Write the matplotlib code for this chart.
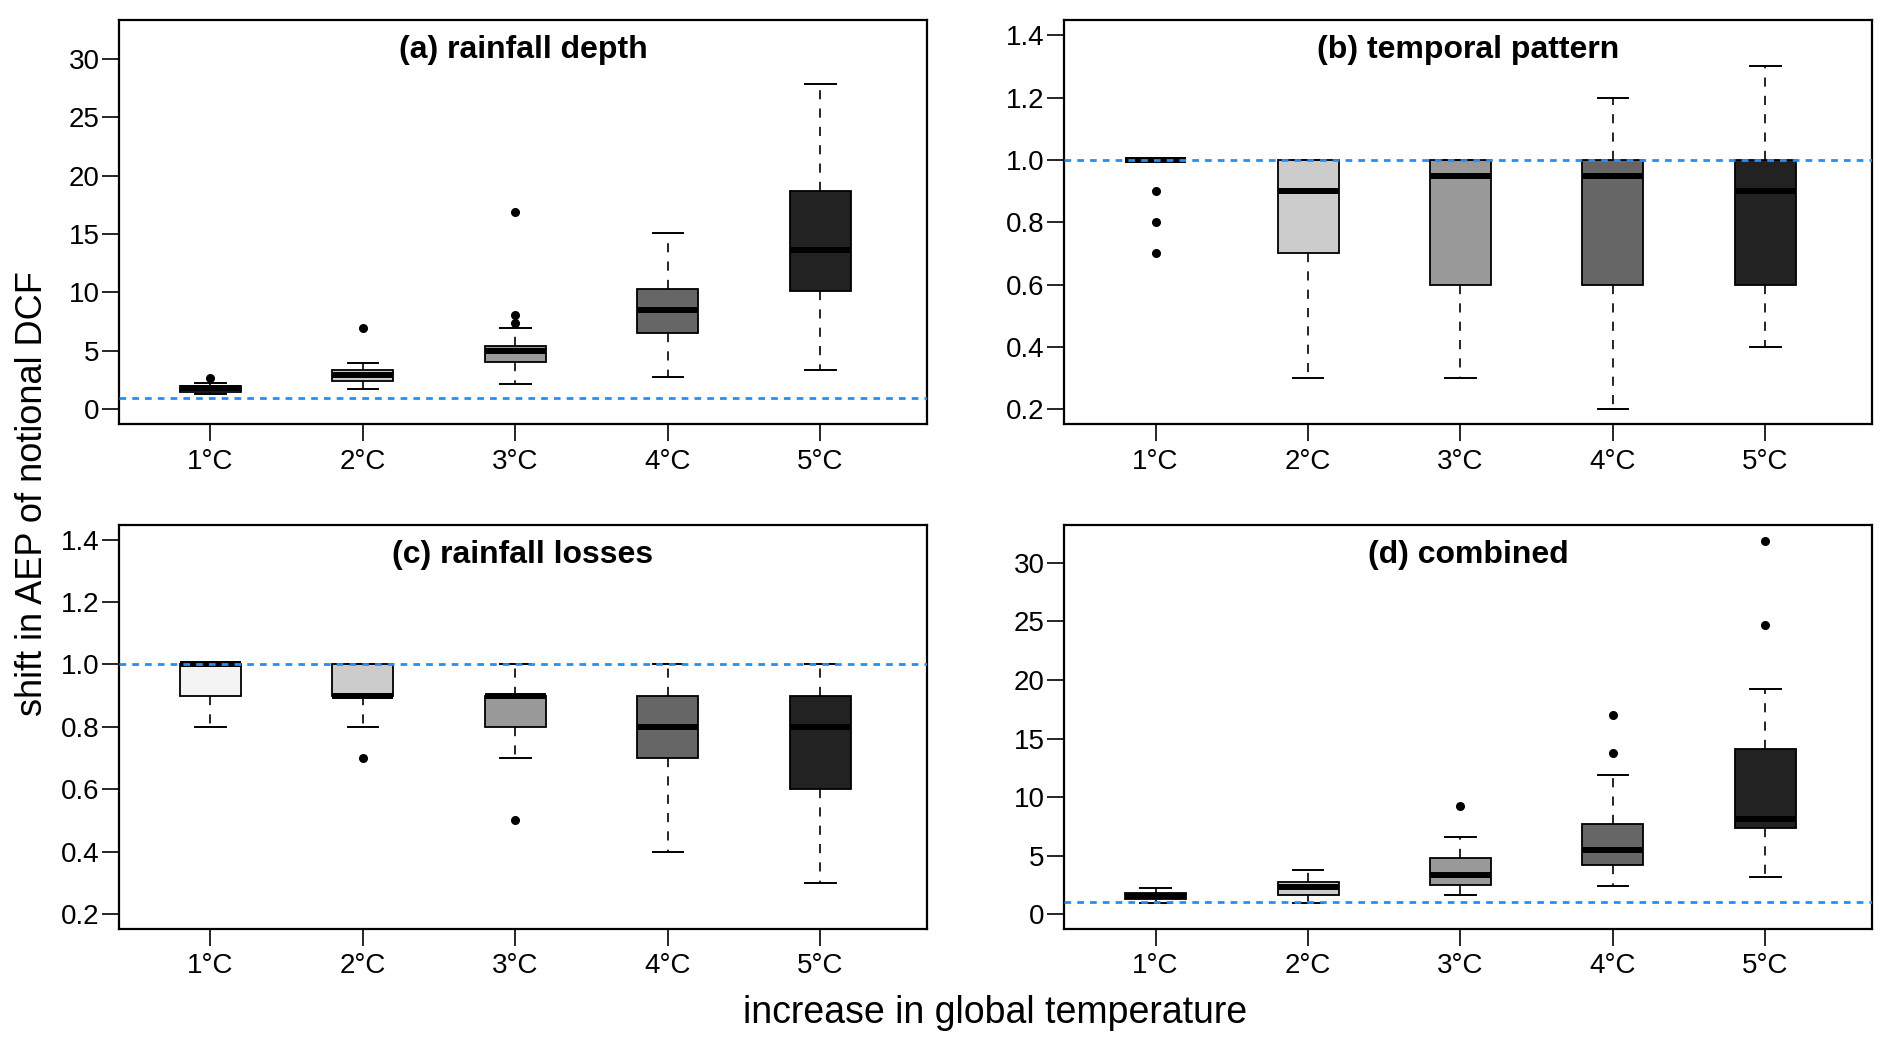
import matplotlib
matplotlib.use("Agg")
import matplotlib.pyplot as plt

plt.rcParams['font.family'] = ['Liberation Sans', 'DejaVu Sans']

# categories
temps = ['1°C', '2°C', '3°C', '4°C', '5°C']
fills = ['#f4f4f4', '#cccccc', '#999999', '#666666', '#222222']

# (a) rainfall depth
a_lo = [1.3, 1.7, 2.2, 2.8, 3.4]
a_q1 = [1.5, 2.45, 4.05, 6.5, 10.1]
a_med = [1.8, 2.9, 5.0, 8.5, 13.6]
a_q3 = [2.0, 3.4, 5.4, 10.3, 18.7]
a_hi = [2.25, 4.0, 7.0, 15.1, 27.8]
a_out = [[2.7], [7.0], [7.4, 8.1, 16.9], [], []]

# (b) temporal pattern
b_lo = [1.0, 0.3, 0.3, 0.2, 0.4]
b_q1 = [1.0, 0.7, 0.6, 0.6, 0.6]
b_med = [1.0, 0.9, 0.95, 0.95, 0.9]
b_q3 = [1.0, 1.0, 1.0, 1.0, 1.0]
b_hi = [1.0, 1.0, 1.0, 1.2, 1.3]
b_out = [[0.9, 0.8, 0.7], [], [], [], []]

# (c) rainfall losses
c_lo = [0.8, 0.8, 0.7, 0.4, 0.3]
c_q1 = [0.9, 0.9, 0.8, 0.7, 0.6]
c_med = [1.0, 0.9, 0.9, 0.8, 0.8]
c_q3 = [1.0, 1.0, 0.9, 0.9, 0.9]
c_hi = [1.0, 1.0, 1.0, 1.0, 1.0]
c_out = [[], [0.7], [0.5], [], []]

# (d) combined
d_lo = [0.95, 0.95, 1.65, 2.4, 3.15]
d_q1 = [1.3, 1.6, 2.45, 4.15, 7.35]
d_med = [1.55, 2.3, 3.35, 5.5, 8.1]
d_q3 = [1.8, 2.7, 4.8, 7.7, 14.1]
d_hi = [2.2, 3.8, 6.6, 11.9, 19.2]
d_out = [[], [], [9.2], [13.8, 17.0], [24.7, 31.9]]

titles = ['(a) rainfall depth', '(b) temporal pattern',
          '(c) rainfall losses', '(d) combined']


def make_stats(lo, q1, med, q3, hi, out):
    return [dict(whislo=lo[i], q1=q1[i], med=med[i], q3=q3[i],
                 whishi=hi[i], fliers=out[i], label=temps[i])
            for i in range(len(temps))]


panels = [
    (make_stats(a_lo, a_q1, a_med, a_q3, a_hi, a_out), (0, 32), 5),
    (make_stats(b_lo, b_q1, b_med, b_q3, b_hi, b_out), (0.2, 1.4), 0.2),
    (make_stats(c_lo, c_q1, c_med, c_q3, c_hi, c_out), (0.2, 1.4), 0.2),
    (make_stats(d_lo, d_q1, d_med, d_q3, d_hi, d_out), (0, 32), 5),
]

fig = plt.figure(figsize=(18.92, 10.5), dpi=100, facecolor='w')
rects = [
    [0.0629, 0.5959, 0.4271, 0.3848],
    [0.5624, 0.5959, 0.4271, 0.3848],
    [0.0629, 0.1152, 0.4271, 0.3852],
    [0.5624, 0.1152, 0.4271, 0.3852],
]

for rect, (stats, (y0, y1), step), title in zip(rects, panels, titles):
    ax = fig.add_axes(rect)
    res = ax.bxp(stats, positions=range(1, 6), widths=0.4,
                 patch_artist=True, manage_ticks=False,
                 boxprops=dict(edgecolor='black', linewidth=1.3),
                 medianprops=dict(color='black', linewidth=4.3,
                                  solid_capstyle='butt'),
                 whiskerprops=dict(color='black', linewidth=1.2,
                                   linestyle=(0, (5.5, 5.5))),
                 capprops=dict(color='black', linewidth=1.4),
                 flierprops=dict(marker='o', markerfacecolor='black',
                                 markeredgecolor='black', markersize=5.5,
                                 linestyle='none'))
    for box, col in zip(res['boxes'], fills):
        box.set_facecolor(col)

    ax.axhline(1, color='#1e90ff', lw=2.0, ls=(0, (2.4, 2.2)), zorder=5)

    ext = 0.04 * (y1 - y0)
    ax.set_ylim(y0 - ext, y1 + ext)
    ax.set_xlim(0.4, 5.7)
    n = int(round((y1 - y0) / step))
    yt = [y0 + i * step for i in range(n + 1)]
    if y1 > 5:
        yt = [v for v in yt if v <= 30]
        ax.set_yticks(yt)
        ax.set_yticklabels(['%d' % v for v in yt])
    else:
        ax.set_yticks(yt)
        ax.set_yticklabels(['%.1f' % v for v in yt])
    ax.set_xticks(range(1, 6))
    ax.set_xticklabels(temps)

    ax.tick_params(axis='both', direction='out', length=12.5, width=1.2,
                   labelsize=20)
    ax.tick_params(axis='y', pad=1.5)
    ax.tick_params(axis='x', pad=5)
    for sp in ax.spines.values():
        sp.set_linewidth(1.6)

    ax.text(0.5, 0.926, title, transform=ax.transAxes, ha='center',
            va='center', fontsize=23, fontweight='bold')

fig.text(0.0174, 0.530, 'shift in AEP of notional DCF', rotation=90,
         ha='center', va='center', fontsize=26)
fig.text(0.526, 0.0352, 'increase in global temperature',
         ha='center', va='center', fontsize=27)

fig.savefig('out.png', dpi=100)
